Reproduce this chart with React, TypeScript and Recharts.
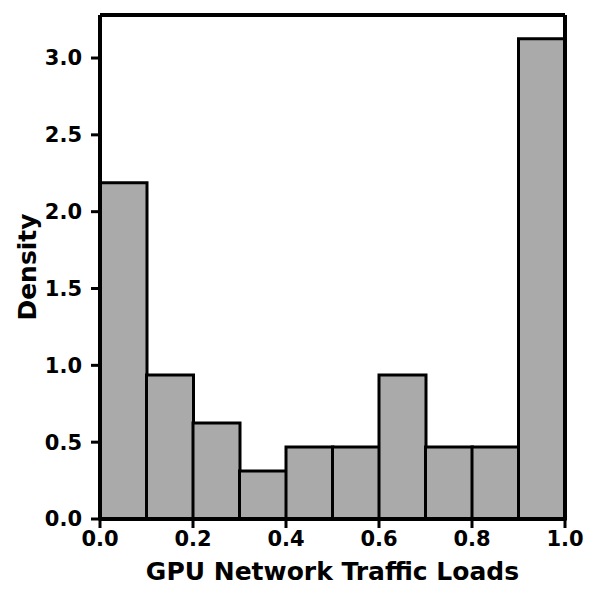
import React from 'react';
import { BarChart, Bar, XAxis, YAxis, ReferenceLine } from 'recharts';

// histogram bins (center of each 0.1 wide bin) and densities
const binMids = [0.05, 0.15, 0.25, 0.35, 0.45, 0.55, 0.65, 0.75, 0.85, 0.95];
const densities = [2.1875, 0.9375, 0.625, 0.3125, 0.46875, 0.46875, 0.9375, 0.46875, 0.46875, 3.125];
const xTicks = [0, 0.2, 0.4, 0.6, 0.8, 1.0];
const yTicks = [0, 0.5, 1.0, 1.5, 2.0, 2.5, 3.0];
const yMax = 3.28;

const data = binMids.map((mid, i) => ({ mid, density: densities[i] }));

const font = 'DejaVu Sans, sans-serif';
const tickStyle = { fontFamily: font, fontSize: 21, fontWeight: 'bold', fill: '#000' };
const labelStyle = { fontFamily: font, fontSize: 25, fontWeight: 'bold', fill: '#000' };

export default function App() {
  return (
    <BarChart
      width={584}
      height={584}
      data={data}
      margin={{ top: 7, right: 27, left: 0, bottom: 0 }}
      barCategoryGap={0}
      barGap={0}
    >
      <XAxis
        dataKey="mid"
        type="number"
        domain={[0, 1]}
        ticks={xTicks}
        tickFormatter={(v: number) => v.toFixed(1)}
        height={73}
        tick={tickStyle}
        tickSize={9}
        tickMargin={3}
        axisLine={{ stroke: '#000', strokeWidth: 4 }}
        tickLine={{ stroke: '#000', strokeWidth: 3 }}
        label={{
          value: 'GPU Network Traffic Loads',
          position: 'insideBottom',
          offset: 12,
          style: labelStyle,
        }}
      />
      <YAxis
        type="number"
        domain={[0, yMax]}
        ticks={yTicks}
        tickFormatter={(v: number) => v.toFixed(1)}
        width={92}
        tick={tickStyle}
        tickSize={9}
        tickMargin={9}
        axisLine={{ stroke: '#000', strokeWidth: 4 }}
        tickLine={{ stroke: '#000', strokeWidth: 3 }}
        label={{
          value: 'Density',
          angle: -90,
          position: 'insideLeft',
          offset: 19,
          style: { ...labelStyle, textAnchor: 'middle' },
        }}
      />
      <Bar
        dataKey="density"
        fill="#aaaaaa"
        stroke="#000"
        strokeWidth={3}
        isAnimationActive={false}
      />
      <ReferenceLine y={yMax} stroke="#000" strokeWidth={4} />
      <ReferenceLine x={1} stroke="#000" strokeWidth={4} />
    </BarChart>
  );
}
